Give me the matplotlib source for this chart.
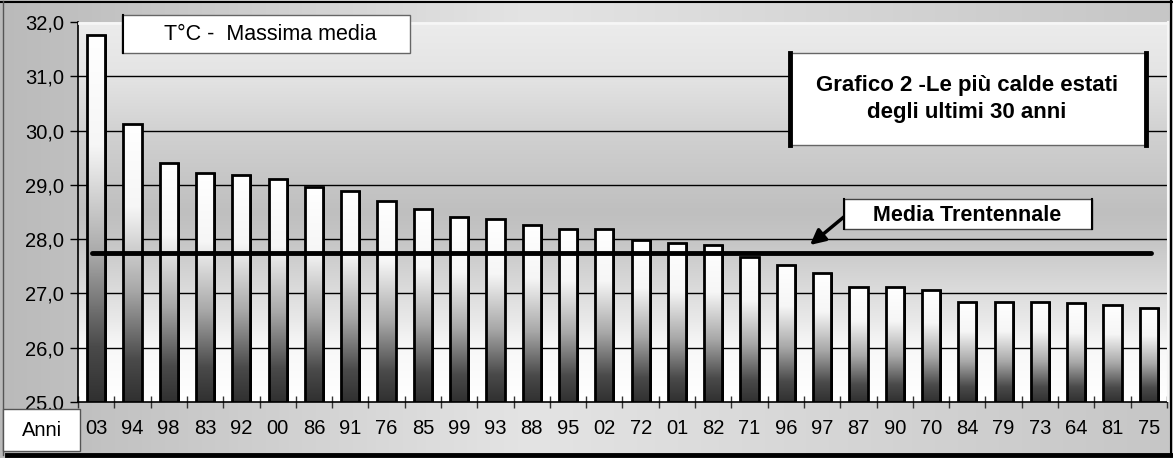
import numpy as np
import matplotlib.pyplot as plt
from matplotlib.colors import LinearSegmentedColormap
from matplotlib.patches import Rectangle
from matplotlib.ticker import FuncFormatter, MultipleLocator

plt.rcParams['font.family'] = ['Liberation Sans', 'DejaVu Sans']

# anni (le estati piu' calde, in ordine) e temperatura massima media
anni = ["03", "94", "98", "83", "92", "00", "86", "91", "76", "85",
        "99", "93", "88", "95", "02", "72", "01", "82", "71", "96",
        "97", "87", "90", "70", "84", "79", "73", "64", "81", "75"]
tmax = [31.76, 30.13, 29.40, 29.21, 29.18, 29.10, 28.96, 28.88, 28.70, 28.55,
        28.40, 28.37, 28.26, 28.18, 28.18, 27.99, 27.92, 27.89, 27.67, 27.52,
        27.37, 27.11, 27.11, 27.07, 26.85, 26.85, 26.85, 26.82, 26.78, 26.74]
media_30 = 27.74
y_min, y_max = 25.0, 32.0

W, H = 1173, 458
fig = plt.figure(figsize=(W / 100, H / 100), dpi=100)

def fx(px):
    return px / W

def fy(py):
    return 1 - py / H

# sfondo esterno (gradiente orizzontale)
bg = fig.add_axes([0, 0, 1, 1], zorder=-10)
bg_cmap = LinearSegmentedColormap.from_list(
    "bg", [(0, "#bababa"), (0.45, "#e4e4e4"), (1, "#c6c6c6")])
bg.imshow(np.linspace(0, 1, 256)[None, :], cmap=bg_cmap, aspect="auto",
          extent=(0, 1, 0, 1))
bg.set_axis_off()

# area del grafico
ax = fig.add_axes([fx(78), fy(402), fx(1167 - 78), (402 - 22) / H])
x = np.arange(len(anni))

plot_cmap = LinearSegmentedColormap.from_list(
    "plot", [(0, "#ffffff"), (1 / 7, "#f8f8f8"), (0.22, "#e8e8e8"),
             (0.42, "#c6c6c6"), (0.5, "#bfbfbf"), (0.7, "#d0d0d0"),
             (0.86, "#e4e4e4"), (1, "#ececec")])
ax.imshow(np.linspace(0, 1, 256)[:, None], cmap=plot_cmap, aspect="auto",
          origin="lower", extent=(-0.5, len(anni) - 0.5, y_min, y_max),
          zorder=0)

for yv in np.arange(26, 32):
    ax.axhline(yv, color="black", lw=1, zorder=1)

# barre con gradiente (bianco in alto, scuro in basso)
bar_cmap = LinearSegmentedColormap.from_list(
    "bar", [(0, "#ffffff"), (0.3, "#f6f6f6"), (0.6, "#a8a8a8"),
            (0.85, "#4a4a4a"), (1, "#303030")])
grad = np.linspace(0, 1, 256)[:, None]
bw = 0.5
ax.bar(x + 0.05, np.array(tmax) - y_min, bottom=y_min, width=bw,
       color="black", zorder=2)
bars = ax.bar(x, np.array(tmax) - y_min, bottom=y_min, width=bw,
              facecolor="none", edgecolor="black", linewidth=2, zorder=4)
for b in bars:
    x0, y0 = b.get_x(), b.get_y()
    im = ax.imshow(grad, cmap=bar_cmap, aspect="auto", origin="upper",
                   extent=(x0, x0 + b.get_width(), y0, y0 + b.get_height()),
                   zorder=3)
    im.set_clip_path(b)

# media trentennale
ax.plot([-0.11, 29.06], [media_30, media_30], color="black", lw=3.5,
        solid_capstyle="round", zorder=5)
ax.set_xlim(-0.5, len(anni) - 0.5)
ax.set_ylim(y_min, y_max)

# assi e tick
ax.set_xticks(x)
ax.set_xticklabels(anni, fontsize=14.5)
ax.set_xticks(np.arange(-0.5, len(anni)), minor=True)
ax.tick_params(axis="x", which="major", length=0, pad=12)
ax.tick_params(axis="x", which="minor", length=8, direction="inout",
               width=1, color="#333333")
ax.yaxis.set_major_locator(MultipleLocator(1))
ax.yaxis.set_major_formatter(FuncFormatter(lambda v, p: f"{v:.1f}".replace(".", ",")))
ax.tick_params(axis="y", labelsize=14.5, length=6, width=1, pad=4,
               colors="black")
for s in ["top", "right"]:
    ax.spines[s].set_visible(False)
ax.spines["left"].set_linewidth(1.2)
ax.spines["bottom"].set_linewidth(1.2)

# bordo superiore/destro chiaro dell'area grafico
fig.add_artist(plt.Line2D([fx(79), fx(1167)], [fy(22.5), fy(22.5)],
                          color="#f6f6f6", lw=2))
fig.add_artist(plt.Line2D([fx(1167.5), fx(1167.5)], [fy(22), fy(401)],
                          color="#f6f6f6", lw=1.5))

# cornice esterna
fig.add_artist(plt.Line2D([0, 1], [fy(1.5), fy(1.5)], color="black", lw=1.5))
fig.add_artist(plt.Line2D([fx(1171), fx(1171)], [fy(1), fy(456)],
                          color="black", lw=1.5))
fig.add_artist(plt.Line2D([fx(7), 1], [fy(455), fy(455)], color="black", lw=3.5))
fig.add_artist(plt.Line2D([fx(2.5), fx(2.5)], [fy(1), fy(455)],
                          color="#555555", lw=1))

def box(x0, y0, x1, y1, lw_side=1.0, edge="#666666"):
    r = Rectangle((fx(x0), fy(y1)), fx(x1 - x0), (y1 - y0) / H,
                  transform=fig.transFigure, facecolor="white",
                  edgecolor=edge, lw=1, zorder=20)
    fig.add_artist(r)
    if lw_side:
        for xs in (x0, x1):
            fig.add_artist(plt.Line2D([fx(xs), fx(xs)], [fy(y0), fy(y1)],
                                      color="black", lw=lw_side, zorder=21))

# titoli e etichette
box(122, 15, 410, 53, lw_side=0)
fig.add_artist(plt.Line2D([fx(122.5), fx(122.5)], [fy(15), fy(53)],
                          color="black", lw=1.5, zorder=21))
fig.text(fx(270), fy(35), "T°C -  Massima media", fontsize=15.5,
         ha="center", va="center", zorder=22)

box(790, 53, 1146, 145, lw_side=3.5)
fig.text(fx(967), fy(99), "Grafico 2 -Le più calde estati\ndegli ultimi 30 anni",
         fontsize=16, fontweight="bold", ha="center", va="center",
         linespacing=1.35, zorder=22)

box(844, 199, 1092, 229, lw_side=1.5, edge="#444444")
fig.text(fx(967), fy(215), "Media Trentennale", fontsize=15.5,
         fontweight="bold", ha="center", va="center", zorder=22)

ax.annotate("", xy=(fx(810), fy(245)), xycoords="figure fraction",
            xytext=(fx(845), fy(216)), textcoords="figure fraction",
            arrowprops=dict(arrowstyle="-|>,head_length=0.9,head_width=0.45",
                            color="black", lw=2.5, shrinkA=0, shrinkB=0),
            zorder=22)

box(3, 409, 80, 451, lw_side=0, edge="#555555")
fig.text(fx(42), fy(430), "Anni", fontsize=14.5, ha="center", va="center",
         zorder=22)

plt.savefig("out.png", dpi=100)
plt.close()
